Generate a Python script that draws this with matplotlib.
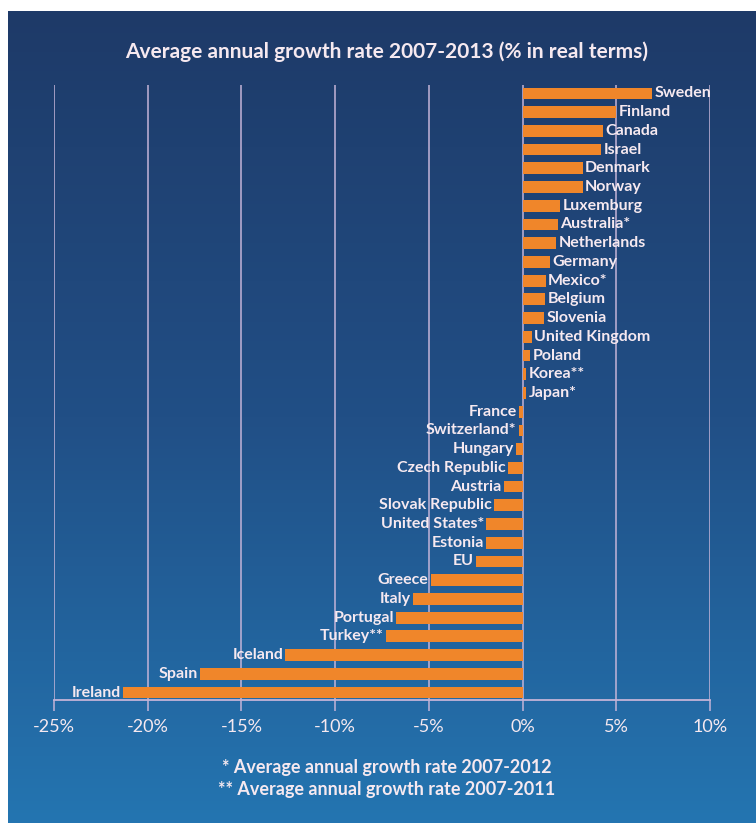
import matplotlib.pyplot as plt
import numpy as np
from matplotlib.colors import LinearSegmentedColormap

# data (top to bottom)
countries = ["Sweden", "Finland", "Canada", "Israel", "Denmark", "Norway",
             "Luxemburg", "Australia*", "Netherlands", "Germany", "Mexico*",
             "Belgium", "Slovenia", "United Kingdom", "Poland", "Korea**",
             "Japan*", "France", "Switzerland*", "Hungary", "Czech Republic",
             "Austria", "Slovak Republic", "United States*", "Estonia", "EU",
             "Greece", "Italy", "Portugal", "Turkey**", "Iceland", "Spain",
             "Ireland"]
growth = [6.9, 5.0, 4.3, 4.2, 3.2, 3.2,
          2.0, 1.9, 1.8, 1.45, 1.25,
          1.2, 1.15, 0.5, 0.4, 0.2,
          0.2, -0.2, -0.2, -0.35, -0.8,
          -1.0, -1.55, -1.95, -1.95, -2.5,
          -4.9, -5.85, -6.75, -7.3, -12.65, -17.2,
          -21.3]
ticks = [-25, -20, -15, -10, -5, 0, 5, 10]
tick_labels = ["-25%", "-20%", "-15%", "-10%", "-5%", "0%", "5%", "10%"]

W, H = 756, 823
fig = plt.figure(figsize=(W / 100, H / 100), dpi=100, facecolor="white")
plt.rcParams['font.family'] = ['Lato', 'DejaVu Sans']

# gradient background panel
bg = fig.add_axes([8 / W, 0, 1 - 8 / W, (H - 11) / H])
cmap = LinearSegmentedColormap.from_list("bg", ["#1e3a68", "#214f86", "#2475b1"])
grad = np.linspace(0, 1, 256).reshape(-1, 1)
bg.imshow(grad, aspect="auto", cmap=cmap, extent=[0, 1, 0, 1], origin="upper")
bg.set_axis_off()

line_col = "#c4b4d8"
text_col = "#f6e9f0"
bar_col = "#f0862a"

ax = fig.add_axes([54 / W, (H - 700) / H, (710 - 54) / W, (700 - 85) / H])
ax.patch.set_alpha(0)
y = np.arange(len(countries))
ax.barh(y, growth, height=0.63, color=bar_col, zorder=3)

for yi, name, v in zip(y, countries, growth):
    if v >= 0:
        ax.text(v + 0.12, yi, name, ha="left", va="center", color=text_col,
                fontsize=11.5, fontweight="bold", zorder=4)
    else:
        ax.text(v - 0.12, yi, name, ha="right", va="center", color=text_col,
                fontsize=11.5, fontweight="bold", zorder=4)

ax.set_xlim(-25, 10)
ax.set_ylim(len(countries) - 0.6, -0.45)
ax.set_xticks(ticks)
ax.set_xticklabels(tick_labels)
ax.set_yticks([])
for t in ticks:
    ax.axvline(t, color=line_col, lw=1.1, zorder=1)
for s in ["top", "right", "left"]:
    ax.spines[s].set_visible(False)
ax.spines["bottom"].set_color(line_col)
ax.spines["bottom"].set_linewidth(1.3)
ax.tick_params(axis="x", colors=line_col, length=8, width=1.1, pad=6,
               labelcolor=text_col, labelsize=13)

fig.text(387 / W, 1 - 52 / H, "Average annual growth rate 2007-2013 (% in real terms)",
         ha="center", va="center", color=text_col, fontsize=15, fontweight="bold")
fig.text(387 / W, 1 - 767 / H, "* Average annual growth rate 2007-2012",
         ha="center", va="center", color=text_col, fontsize=13, fontweight="bold")
fig.text(387 / W, 1 - 790 / H, "** Average annual growth rate 2007-2011",
         ha="center", va="center", color=text_col, fontsize=13, fontweight="bold")

fig.savefig("out.png", dpi=100, facecolor="white")
